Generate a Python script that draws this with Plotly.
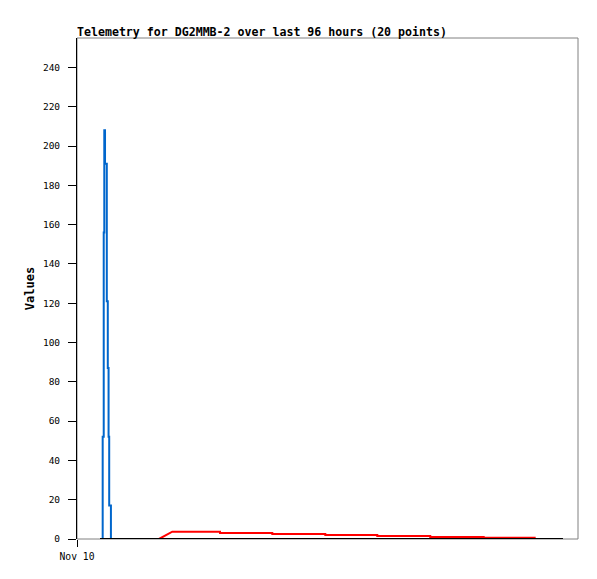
import plotly.graph_objects as go

# hours since Nov 10 00:00
blue_x = [4.92, 5.12, 5.23, 5.37, 5.71, 5.90, 6.05, 6.17, 6.50, 6.55]
blue_y = [0, 52, 156, 208, 191, 121, 87, 52, 17, 0]

red_x = [15.71, 18.26, 27.40, 27.40, 37.42, 37.42, 47.58, 47.58, 57.54, 57.54,
         67.69, 67.69, 77.93, 77.93, 87.89]
red_y = [0, 3.72, 3.72, 3.06, 3.06, 2.55, 2.55, 2.04, 2.04, 1.53,
         1.53, 1.02, 1.02, 0.66, 0.66]

black_x = [4.41, 93.12]
black_y = [0, 0]

y_ticks = list(range(0, 241, 20))
x_tickvals = [0]
x_ticktext = ["Nov 10"]

title = "Telemetry for DG2MMB-2 over last 96 hours (20 points)"

mono = "DejaVu Sans Mono"
W, H = 589, 571  # page body has an 8px margin

fig = go.Figure()
fig.add_trace(go.Scatter(x=blue_x, y=blue_y, mode="lines", line=dict(color="#0066cc", width=2, shape="vh"),
                         showlegend=False, hoverinfo="skip"))
fig.add_trace(go.Scatter(x=red_x, y=red_y, mode="lines", line=dict(color="#ff0000", width=2),
                         showlegend=False, hoverinfo="skip"))
fig.add_trace(go.Scatter(x=black_x, y=black_y, mode="lines", line=dict(color="#000000", width=2),
                         showlegend=False, hoverinfo="skip"))

fig.update_layout(
    width=W, height=H,
    margin=dict(l=69, r=19, t=30, b=40),
    paper_bgcolor="white", plot_bgcolor="white",
    title=dict(text="<b>" + title + "</b>", x=69/W, xanchor="left", xref="container",
               y=1 - 23.5/H, yanchor="middle", yref="container",
               font=dict(family=mono, size=11.6, color="black")),
    font=dict(family=mono, size=9.5, color="black"),
    shapes=[dict(type="rect", xref="paper", yref="paper", x0=0, y0=0, x1=1, y1=1,
                 line=dict(color="#808080", width=1), layer="below")],
)
fig.update_xaxes(range=[0, 96], tickvals=x_tickvals, ticktext=x_ticktext,
                 showgrid=False, zeroline=False, showline=False,
                 ticks="outside", ticklen=7, tickcolor="black", tickwidth=1,
                 ticklabelstandoff=1,
                 tickfont=dict(family=mono, size=9.7, color="black"))
fig.update_yaxes(range=[0, 255], tickvals=y_ticks, showgrid=False, zeroline=False,
                 showline=True, linecolor="black", linewidth=1,
                 ticks="outside", ticklen=8, tickcolor="black", tickwidth=1,
                 ticklabelstandoff=6,
                 tickfont=dict(family=mono, size=9.5, color="black"),
                 title=dict(text="<b>Values</b>", standoff=5,
                            font=dict(family=mono, size=12, color="black")))

fig.write_html("out.html")
